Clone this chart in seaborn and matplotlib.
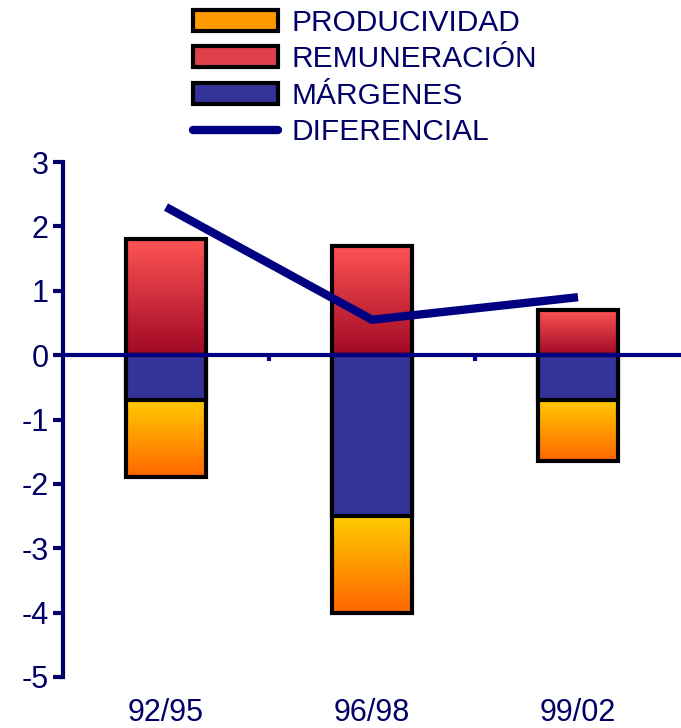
import numpy as np
import pandas as pd
import matplotlib
matplotlib.use("Agg")
import matplotlib.pyplot as plt
import seaborn as sns
from matplotlib.colors import LinearSegmentedColormap
from matplotlib.patches import Patch
from matplotlib.lines import Line2D

# ---- data ----
periods = ["92/95", "96/98", "99/02"]
productividad = [-1.2, -1.5, -0.95]
remuneracion = [1.8, 1.7, 0.7]
margenes = [-0.7, -2.5, -0.7]
diferencial = [2.3, 0.55, 0.9]
legend_labels = ["PRODUCIVIDAD", "REMUNERACIÓN", "MÁRGENES", "DIFERENCIAL"]
y_ticks = [3, 2, 1, 0, -1, -2, -3, -4, -5]

NAVY = "#000066"
LINE = "#000080"
BLUE = "#333399"

sns.set_theme(style="white")
plt.rcParams["font.family"] = ["Liberation Sans", "DejaVu Sans"]

df = pd.DataFrame({"periodo": periods, "prod": productividad,
                   "rem": remuneracion, "marg": margenes, "dif": diferencial})
df["neg_total"] = df["marg"] + df["prod"]

fig = plt.figure(figsize=(6.81, 7.28), dpi=100)
ax = fig.add_axes([63 / 681, 1 - 677 / 728, 1 - 63 / 681, (677 - 162) / 728])

bw = 0.39
# productividad (stacked below margins): total negative bar
sns.barplot(data=df, x="periodo", y="neg_total", color="#FF9900", saturation=1,
            width=bw, edgecolor="black", linewidth=3, errorbar=None, ax=ax, zorder=2)
prod_patches = list(ax.patches)
# remuneracion
sns.barplot(data=df, x="periodo", y="rem", color="#E0404A", saturation=1,
            width=bw, edgecolor="black", linewidth=3, errorbar=None, ax=ax, zorder=2)
rem_patches = list(ax.patches)[len(prod_patches):]
# margenes
sns.barplot(data=df, x="periodo", y="marg", color=BLUE, saturation=1,
            width=bw, edgecolor="black", linewidth=3, errorbar=None, ax=ax, zorder=3)

grad = np.linspace(0, 1, 256).reshape(-1, 1)
cm_prod = LinearSegmentedColormap.from_list("prod", ["#FFCC00", "#FF6600"])
cm_rem = LinearSegmentedColormap.from_list("rem", ["#FF5555", "#A00825"])

for p, top in zip(prod_patches, df["marg"]):
    x0, w = p.get_x(), p.get_width()
    bottom = p.get_y() + p.get_height()
    lo = min(bottom, p.get_y())
    ax.imshow(grad, extent=(x0, x0 + w, lo, top), aspect="auto", cmap=cm_prod,
              origin="upper", zorder=1.9, interpolation="bilinear")
    p.set_facecolor("none")
for p in rem_patches:
    x0, w = p.get_x(), p.get_width()
    y0, h = p.get_y(), p.get_height()
    ax.imshow(grad, extent=(x0, x0 + w, y0, y0 + h), aspect="auto", cmap=cm_rem,
              origin="upper", zorder=1.9, interpolation="bilinear")
    p.set_facecolor("none")

# diferencial line
sns.lineplot(x=np.arange(len(periods)), y=df["dif"].to_numpy(), color=LINE,
             linewidth=6, ax=ax, zorder=6, solid_capstyle="butt")

ax.set_xlim(-0.5, 2.5)
ax.set_ylim(-5, 3)
ax.set_yticks(y_ticks)
ax.set_yticklabels([str(t) for t in y_ticks])
ax.set_xticks([0.5, 1.5])
ax.set_xticklabels([])
ax.set_xlabel("")
ax.set_ylabel("")

for s in ["top", "right"]:
    ax.spines[s].set_visible(False)
ax.spines["left"].set_color(NAVY)
ax.spines["left"].set_linewidth(3)
ax.spines["bottom"].set_position(("data", 0))
ax.spines["bottom"].set_color(LINE)
ax.spines["bottom"].set_linewidth(3)
ax.spines["bottom"].set_zorder(5)

ax.tick_params(axis="y", direction="out", length=7, width=3, color=NAVY,
               labelsize=22, labelcolor=NAVY, pad=3.5, left=True)
ax.tick_params(axis="x", direction="out", length=4, width=3, color=LINE,
               bottom=True)

for i, lab in enumerate(periods):
    ax.text(i, -0.07, lab, transform=ax.get_xaxis_transform(), ha="center",
            va="center", fontsize=22, color=NAVY)

handles = [
    Patch(facecolor="#FF9900", edgecolor="black", linewidth=3),
    Patch(facecolor="#E0404A", edgecolor="black", linewidth=3),
    Patch(facecolor=BLUE, edgecolor="black", linewidth=3),
    Line2D([], [], color=LINE, linewidth=6),
]
leg = fig.legend(handles, legend_labels, loc="upper left",
                 bbox_to_anchor=(193 / 681, 1 - 9 / 728), frameon=False,
                 fontsize=21.5, labelcolor=NAVY, handlelength=2.85,
                 handleheight=0.7, handletextpad=0.45, labelspacing=0.28,
                 borderpad=0, borderaxespad=0)

fig.savefig("out.png", dpi=100)
